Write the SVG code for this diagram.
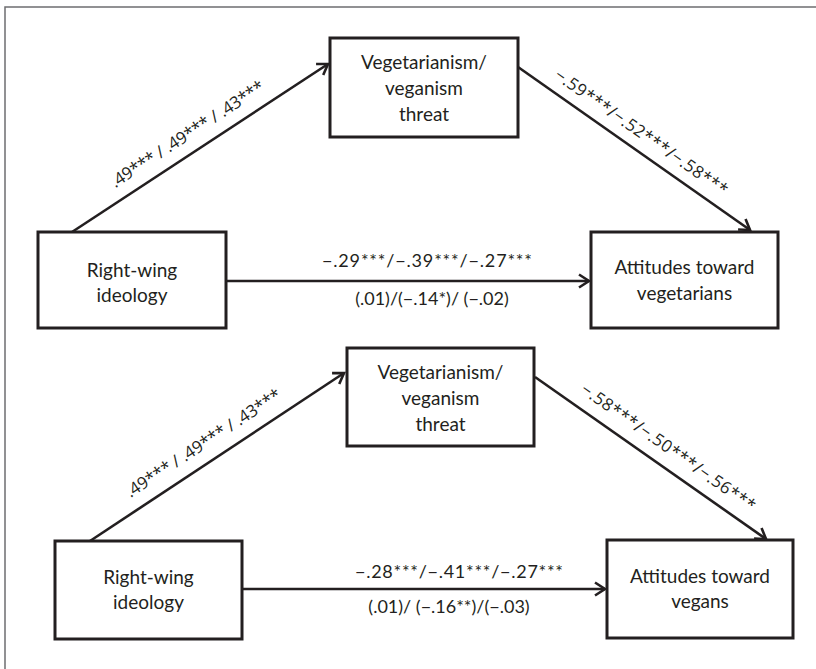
<svg xmlns="http://www.w3.org/2000/svg" width="816" height="669" viewBox="0 0 816 669">
<defs>
<style>
.frame{fill:none;stroke:#6d6e70;stroke-width:1.5}
.box{fill:#fff;stroke:#231f20;stroke-width:3}
.t{font-family:Lato,"Liberation Sans",sans-serif;font-size:19px;fill:#231f20;text-anchor:middle}
.e{font-family:Lato,"Liberation Sans",sans-serif;font-size:18px;fill:#231f20;text-anchor:middle}
.d{font-family:"Open Sans","Liberation Sans",sans-serif;font-size:17px;fill:#231f20;text-anchor:middle}
.c{fill:none;stroke:#231f20;stroke-width:2.6}
</style>
<marker id="ah" markerUnits="userSpaceOnUse" markerWidth="16" markerHeight="16" viewBox="-13 -8 16 16" refX="0" refY="0" orient="auto">
<path d="M-10,-6.5 L0,0 L-10,6.5" fill="none" stroke="#231f20" stroke-width="2.6"/>
</marker>
</defs>
<rect x="0" y="0" width="816" height="669" fill="#fff"/>
<rect class="frame" x="5" y="7" width="830" height="680"/>

<g id="connectors">
<line class="c" x1="72" y1="232" x2="328" y2="64" marker-end="url(#ah)"/>
<line class="c" x1="518" y1="67" x2="750" y2="230" marker-end="url(#ah)"/>
<line class="c" x1="226" y1="281" x2="589" y2="281" marker-end="url(#ah)"/>
<line class="c" x1="90" y1="541" x2="344" y2="373" marker-end="url(#ah)"/>
<line class="c" x1="535" y1="377" x2="766" y2="539" marker-end="url(#ah)"/>
<line class="c" x1="242" y1="589" x2="605" y2="589" marker-end="url(#ah)"/>
<text class="d" transform="translate(190.5,139) rotate(-33.2)" textLength="180" lengthAdjust="spacing">.49*** / .49*** / .43***</text>
<text class="d" transform="translate(638,137) rotate(35)" textLength="207" lengthAdjust="spacing">−.59***/−.52***/−.58***</text>
<text class="e" x="427" y="267" textLength="210" lengthAdjust="spacing">−.29***/−.39***/−.27***</text>
<text class="e" x="432" y="305">(.01)/(−.14*)/ (−.02)</text>
<text class="d" transform="translate(206.5,448) rotate(-33.4)" textLength="182" lengthAdjust="spacing">.49*** / .49*** / .43***</text>
<text class="d" transform="translate(665,452) rotate(35.1)" textLength="209" lengthAdjust="spacing">−.58***/−.50***/−.56***</text>
<text class="e" x="459" y="578" textLength="208" lengthAdjust="spacing">−.28***/−.41***/−.27***</text>
<text class="e" x="449" y="613">(.01)/ (−.16**)/(−.03)</text>
</g>

<g id="threat1">
<rect class="box" x="330" y="38" width="188" height="99"/>
<text class="t" x="424" y="69">Vegetarianism/</text>
<text class="t" x="424" y="95">veganism</text>
<text class="t" x="424" y="121">threat</text>
</g>
<g id="ideology1">
<rect class="box" x="38" y="232" width="188" height="96"/>
<text class="t" x="132" y="277">Right-wing</text>
<text class="t" x="132" y="302">ideology</text>
</g>
<g id="attitudes1">
<rect class="box" x="591" y="232" width="187" height="96"/>
<text class="t" x="684.5" y="274">Attitudes toward</text>
<text class="t" x="684.5" y="300">vegetarians</text>
</g>
<g id="threat2">
<rect class="box" x="347" y="348" width="187" height="98"/>
<text class="t" x="440.5" y="379">Vegetarianism/</text>
<text class="t" x="440.5" y="405">veganism</text>
<text class="t" x="440.5" y="431">threat</text>
</g>
<g id="ideology2">
<rect class="box" x="55" y="541" width="187" height="98"/>
<text class="t" x="148.5" y="584">Right-wing</text>
<text class="t" x="148.5" y="609">ideology</text>
</g>
<g id="attitudes2">
<rect class="box" x="607" y="540" width="186" height="98"/>
<text class="t" x="700" y="583">Attitudes toward</text>
<text class="t" x="700" y="608">vegans</text>
</g>
</svg>
